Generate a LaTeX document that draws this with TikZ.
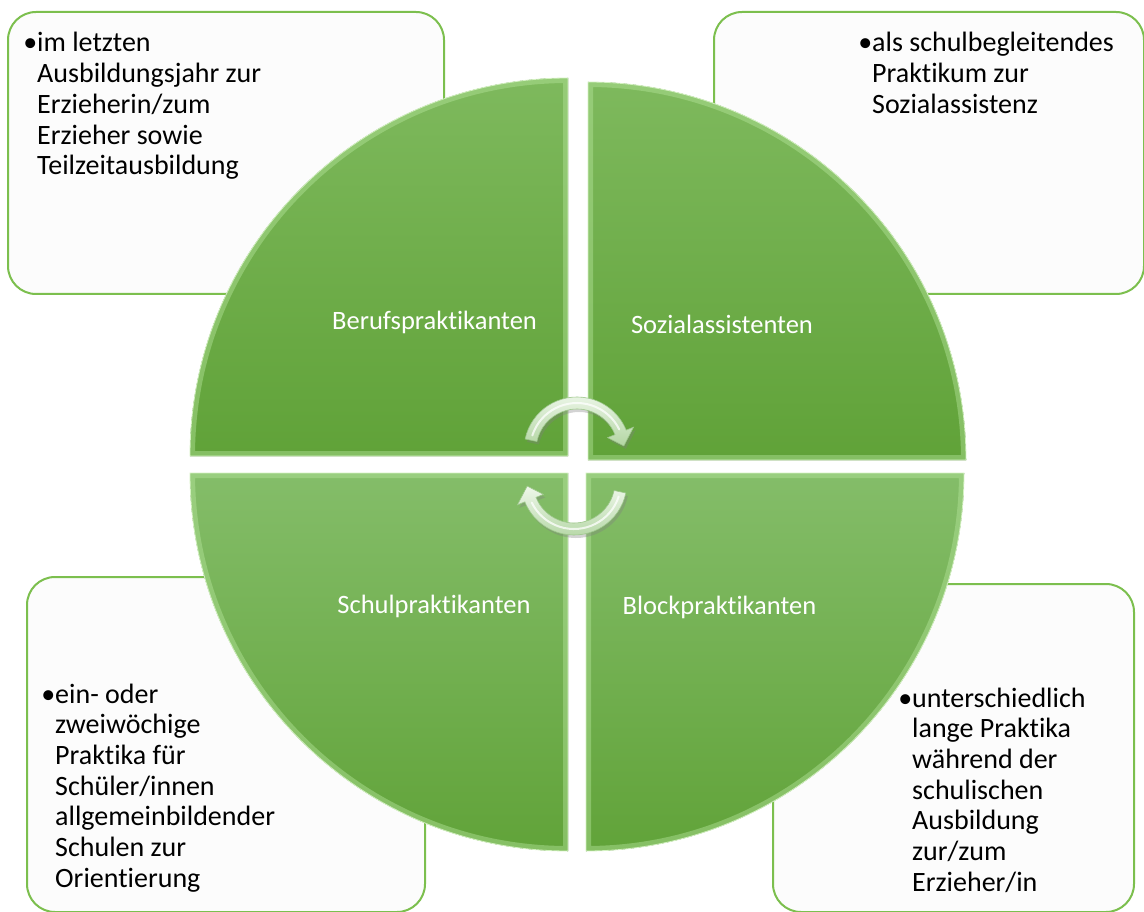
\documentclass[tikz,border=0pt]{standalone}
\usepackage{fontspec}
\setmainfont{Carlito}[Ligatures={NoCommon,NoContextual}, Contextuals=NoAlternate]
\usetikzlibrary{shadows,calc}

\definecolor{boxline}{HTML}{7CBF4E}
\definecolor{boxfill}{HTML}{FCFCFC}
\definecolor{qtopA}{HTML}{7EB95D}
\definecolor{qbotA}{HTML}{60A238}
\definecolor{qtopB}{HTML}{84BD69}
\definecolor{qbotB}{HTML}{61A339}
\definecolor{bevel}{HTML}{B4E49A}
\definecolor{rim}{HTML}{D4F2C2}
\definecolor{arrowlight}{HTML}{EEF7EA}
\definecolor{arrowdark}{HTML}{B3D6A3}
\definecolor{arrowline}{HTML}{9DC78B}

\tikzset{
  infobox/.style={draw=boxline, line width=2pt, fill=boxfill,
    rounded corners=28pt, anchor=north west, inner sep=0pt},
  % anchored at the baseline of the last line
  bodytext/.style={anchor=base west, inner sep=0pt, align=left,
    font=\fontsize{28}{30.7}\selectfont},
  quadlabel/.style={anchor=base, inner sep=0pt, text=white,
    font=\fontsize{26.5}{30}\selectfont},
  bevelband/.style={draw=bevel, line width=10pt, opacity=0.45},
  bevelrim/.style={draw=rim, line width=0.8pt},
  cyclearrow/.style={top color=arrowlight, bottom color=arrowdark,
    draw=arrowline, line width=0.6pt,
    drop shadow={opacity=0.35, shadow xshift=2pt, shadow yshift=-3pt}},
  gloss/.style={draw=white, line width=2pt, opacity=0.75, line cap=round}
}

% one quarter of the disc: shaded fill, inner bevel band and light rim
\newcommand{\drawquad}[2]{%
  \fill[#1] #2;
  \begin{scope}
    \clip #2;
    \draw[bevelband] #2;
  \end{scope}
  \draw[bevelrim] #2;
}

% curved arrow around a centre: shaft from #2 to #3 degrees, tip at #4 degrees
\newcommand{\cyclearrowat}[4]{%
  \begin{scope}[shift={#1}]
    \path[cyclearrow] (#2:53) arc[start angle=#2, end angle=#3, radius=53]
      -- (#3:61) -- (#4:47) -- (#3:33) -- (#3:41)
      arc[start angle=#3, end angle=#2, radius=41] -- cycle;
    \draw[gloss] (#2+6:47) arc[start angle=#2+6, end angle=#3-4, radius=47];
  \end{scope}
}

\begin{document}
\begin{tikzpicture}[x=1pt, y=-1pt]
  \useasboundingbox (0,0) rectangle (1144,912);

  % text boxes behind the disc
  \node[infobox, minimum width=436pt, minimum height=282pt] (boxBP) at (7,11) {};
  \node[infobox, minimum width=430pt, minimum height=282pt] (boxSA) at (713,11) {};
  \node[infobox, minimum width=398pt, minimum height=335pt] (boxSP) at (26,576) {};
  \node[infobox, minimum width=361pt, minimum height=328pt] (boxBL) at (772,583) {};

  % the four quarters of the disc
  \drawquad{top color=qtopA, bottom color=qbotA}
    {(568,456) -- (190,456) arc[start angle=180, end angle=270, radius=378] -- cycle}
  \drawquad{top color=qtopA, bottom color=qbotA}
    {(588,460) -- (588,82) arc[start angle=270, end angle=360, radius=378] -- cycle}
  \drawquad{top color=qtopB, bottom color=qbotB}
    {(586,473) -- (964,473) arc[start angle=0, end angle=90, radius=378] -- cycle}
  \drawquad{top color=qtopB, bottom color=qbotB}
    {(568,473) -- (568,851) arc[start angle=90, end angle=180, radius=378] -- cycle}

  % quarter labels
  \node[quadlabel] (labBP) at (434.5,330) {Berufspraktikanten};
  \node[quadlabel] (labSA) at (722,334) {Sozialassistenten};
  \node[quadlabel] (labSP) at (434,613) {Schulpraktikanten};
  \node[quadlabel] (labBL) at (719.5,614) {Blockpraktikanten};

  % descriptions
  \node[bodytext] (txtBP) at (37,174.8)
    {\llap{•}im letzten\\Ausbildungsjahr zur\\Erzieherin/zum\\Erzieher sowie\\Teilzeitausbildung};
  \node[bodytext] (txtSA) at (872,113.4)
    {\llap{•}als schulbegleitendes\\Praktikum zur\\Sozialassistenz};
  \node[bodytext] (txtSP) at (55,887.2)
    {\llap{•}ein- oder\\zweiwöchige\\Praktika für\\Schüler/innen\\allgemeinbildender\\Schulen zur\\Orientierung};
  \node[bodytext] (txtBL) at (912,891.2)
    {\llap{•}unterschiedlich\\lange Praktika\\während der\\schulischen\\Ausbildung\\zur/zum\\Erzieher/in};

  % cycle arrows in the middle
  \cyclearrowat{(577,450)}{192}{338}{355}
  \cyclearrowat{(574,482)}{12}{158}{175}
\end{tikzpicture}
\end{document}
